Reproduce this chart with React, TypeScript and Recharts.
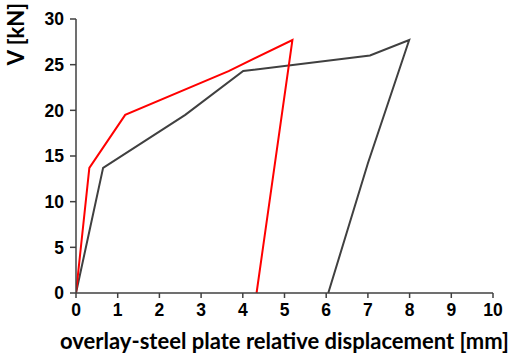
import { LineChart, Line, XAxis, YAxis } from "recharts";

// displacement [mm] vs shear force [kN]
const redX = [0, 0.32, 1.18, 3.66, 5.19, 4.33];
const redV = [0, 13.7, 19.5, 24.3, 27.7, 0];
const grayX = [0, 0.65, 2.62, 4.01, 7.05, 7.99, 7.0, 6.05];
const grayV = [0, 13.7, 19.5, 24.3, 26.0, 27.7, 14.2, 0];

const xTicks = [0, 1, 2, 3, 4, 5, 6, 7, 8, 9, 10];
const yTicks = [0, 5, 10, 15, 20, 25, 30];

const redData = redX.map((x, i) => ({ x, v: redV[i] }));
const grayData = grayX.map((x, i) => ({ x, v: grayV[i] }));

const axisColor = "#404040";
const tickFont = {
  fontFamily: "'Liberation Sans', Arial, sans-serif",
  fontSize: 17.5,
  fontWeight: 700,
  fill: "#000",
};
const titleFont = {
  fontFamily: "Lato, 'Open Sans', sans-serif",
  fontSize: 22,
  fontWeight: 700,
  fill: "#000",
};

export default function App() {
  return (
    <div style={{ position: "absolute", left: 0, top: 0, background: "#fff" }}>
      <LineChart
        width={517}
        height={353}
        margin={{ top: 19, right: 24, bottom: 0, left: 0 }}
      >
        <XAxis
          type="number"
          dataKey="x"
          domain={[0, 10]}
          ticks={xTicks}
          interval={0}
          allowDataOverflow
          height={60}
          stroke={axisColor}
          strokeWidth={1.5}
          tickSize={5}
          tick={tickFont}
          tickMargin={6}
          label={{
            value: "overlay-steel plate relative displacement [mm]",
            position: "insideBottom",
            offset: 4,
            style: titleFont,
          }}
        />
        <YAxis
          type="number"
          dataKey="v"
          domain={[0, 30]}
          ticks={yTicks}
          interval={0}
          width={76}
          stroke={axisColor}
          strokeWidth={1.5}
          tickSize={6}
          tick={tickFont}
          tickMargin={6}
          label={{
            content: () => (
              <text
                x={16}
                y={34}
                dy={8}
                transform="rotate(-90 16 34)"
                textAnchor="middle"
                style={titleFont}
              >
                V [kN]
              </text>
            ),
          }}
        />
        <Line
          data={grayData}
          dataKey="v"
          type="linear"
          stroke="#404040"
          strokeWidth={2}
          dot={false}
          isAnimationActive={false}
        />
        <Line
          data={redData}
          dataKey="v"
          type="linear"
          stroke="#ff0000"
          strokeWidth={2}
          dot={false}
          isAnimationActive={false}
        />
      </LineChart>
    </div>
  );
}
